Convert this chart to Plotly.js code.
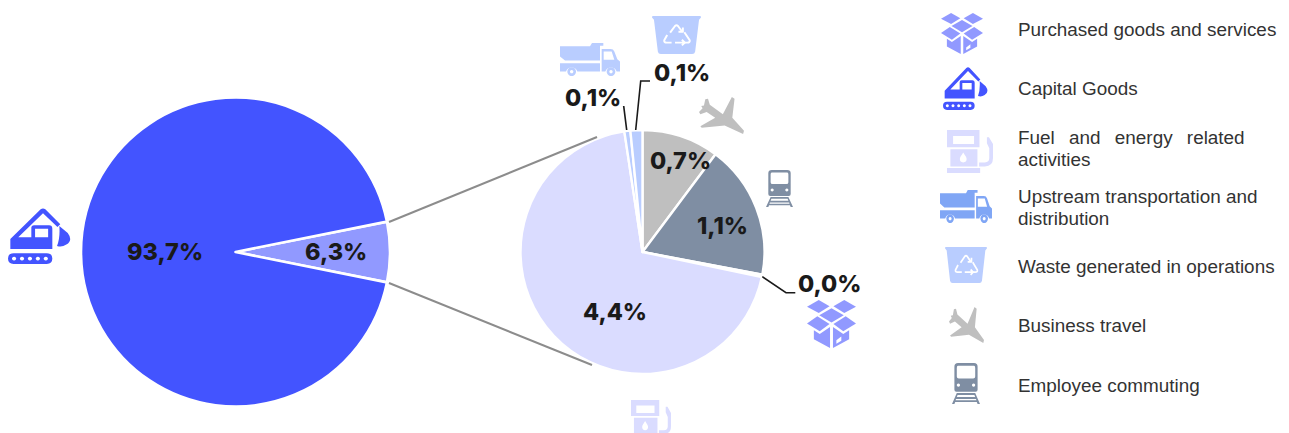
<!DOCTYPE html>
<html><head><meta charset="utf-8">
<script src="https://cdn.plot.ly/plotly-3.0.1.min.js"></script>
<style>html,body{margin:0;padding:0;background:#fff;overflow:hidden}#c{width:1289px;height:433px}</style>
</head><body><div id="c"></div>
<script>
// ---- data ----
const mainCategories = ['Other Scope 3 categories', 'Capital Goods'];
const mainValues = [6.3, 93.7];
const mainColors = ['#9199ff', '#4354ff'];
const mainLabels = ['6,3%', '93,7%'];

const detailCategories = ['Business travel', 'Employee commuting', 'Purchased goods and services',
  'Fuel and energy related activities', 'Upstream transportation and distribution', 'Waste generated in operations'];
const detailValues = [0.644, 1.12, 0.02, 4.37, 0.05, 0.1];
const detailColors = ['#bfbfbf', '#7f8ea3', '#9199ff', '#dadcff', '#b9cdff', '#b9cdff'];
const detailLabels = ['0,7%', '1,1%', '0,0%', '4,4%', '0,1%', '0,1%'];

const legendLines = ['Purchased goods and services', 'Capital Goods',
  'Fuel\u00A0\u00A0\u2009and\u00A0\u00A0\u2009energy\u00A0\u00A0\u2009related', 'activities',
  'Upstream transportation and', 'distribution',
  'Waste generated in operations', 'Business travel', 'Employee commuting'];

// ---- layout helpers (pixel -> paper) ----
const W = 1289, H = 433;
const px = x => x / W, py = y => 1 - y / H;
const dom = (cx, cy, r) => ({x: [px(cx - r), px(cx + r)], y: [py(cy + r), py(cy - r)]});

// ---- icons ----
const icons = {
  box: c => `<svg xmlns="http://www.w3.org/2000/svg" viewBox="0 0 100 100"><g fill="${c}">
    <path d="M24 0 46 13 24 27 0 14Z"/><path d="M76 0 100 14 76 27 54 13Z"/>
    <path d="M50 17 75 32 50 47 25 32Z"/><path d="M21 34 46 50 26 65 0 49Z"/><path d="M79 34 100 49 74 65 54 50Z"/>
    <path d="M14 63 26 71 47 56V100L14 82Z"/><path d="M86 63 74 71 53 56V100L86 82Z"/></g>
    <path d="M60 84 70 76V85L60 91Z" fill="#fff"/></svg>`,
  excavator: c => `<svg xmlns="http://www.w3.org/2000/svg" viewBox="0 0 135 130"><g fill="${c}" fill-rule="evenodd">
    <path d="M5 72 70 3Q75 -1 80 3L112 38 106 44 75 12 22 68H50V46Q50 40 56 40H88Q95 40 95 48V95H5Z M58 48V68H86V48Z"/>
    <path d="M110 42 128 58Q140 75 125 85 115 92 105 88 112 70 110 42Z"/>
    <path d="M12 105H83Q95 105 95 117.500T83 130H12Q0 130 0 117.500T12 105Z M13 113a4.500 4.500 0 1 0 .01 0Z M30 113a4.500 4.500 0 1 0 .01 0Z M47 113a4.500 4.500 0 1 0 .01 0Z M64 113a4.500 4.500 0 1 0 .01 0Z M81 113a4.500 4.500 0 1 0 .01 0Z"/></g></svg>`,
  fuel: c => `<svg xmlns="http://www.w3.org/2000/svg" viewBox="0 0 136 130"><g fill="${c}" fill-rule="evenodd">
    <path d="M0 0H96V52H0Z M18 18V42H80V18Z"/>
    <path d="M10 58H90V110H10Z M48 68C42 78 38 82 38 88A10 10 0 0 0 58 88C58 82 54 78 48 68Z"/>
    <path d="M0 115H98V130H0Z"/>
    <path d="M95 98H112Q125 98 125 85V55L118 40V22H124L136 42V85Q136 110 112 110H95Z"/></g></svg>`,
  truck: c => `<svg xmlns="http://www.w3.org/2000/svg" viewBox="0 0 180 98"><g fill="${c}" fill-rule="evenodd">
    <path d="M0 10H90L96 0H130V8H120V52H15L0 40Z"/>
    <path d="M0 60H120V85H52A18 18 0 0 0 18 85H0Z"/>
    <path d="M125 18H152Q160 18 163 25L172 48 180 55V85H170A18 18 0 0 0 136 85H125Z M131 25V50H163L155 25Z"/>
    <path d="M35 72a13 13 0 1 0 .01 0Z M35 80a5 5 0 1 1 -.01 0Z M153 72a13 13 0 1 0 .01 0Z M153 80a5 5 0 1 1 -.01 0Z"/></g></svg>`,
  waste: c => `<svg xmlns="http://www.w3.org/2000/svg" viewBox="0 0 100 80"><path fill="${c}" d="M2 0H98Q100 0 100 3L96 8 88 75Q87 80 82 80H18Q13 80 12 75L4 8 0 3Q0 0 2 0Z"/>
    <g fill="none" stroke="#fff" stroke-width="4" stroke-linejoin="round"><path d="M37 35 47 21Q50 18 53 21L61 32"/><path d="M66 34 77 51Q78 56 72 56H64"/><path d="M31 40 25 51Q24 56 30 56H40"/><path d="M47 56H66M61 50 67 56 61 62"/><path d="M54 33H63V24"/></g></svg>`,
  plane: c => `<svg xmlns="http://www.w3.org/2000/svg" viewBox="0 0 100 82"><path fill="${c}" d="M73 0 79 4 74 46 100 75 98 82 57 63 6 68 3 65 36 46 17 33 3 38 0 33 8 25 5 20 11 19 14 5 20 4 24 17 53 38Z"/></svg>`,
  train: c => `<svg xmlns="http://www.w3.org/2000/svg" viewBox="0 0 70 100"><g fill="${c}" fill-rule="evenodd">
    <path d="M15 0H55Q64 0 64 9V65Q64 70 59 70H11Q6 70 6 65V9Q6 0 15 0Z M15 7Q12 7 12 12V33Q12 38 17 38H53Q58 38 58 33V12Q58 7 55 7Z M16 50a4 4 0 1 0 .01 0Z M54 50a4 4 0 1 0 .01 0Z"/>
    <path d="M12 73H58L70 100H64L62 95H8L6 100H0Z M14 78 12 83H58L56 78Z M10 88 9 91H61L60 88Z"/></g></svg>`
};
const img = (name, color, x0, x1, y0, y1) => ({
  source: 'data:image/svg+xml;charset=utf-8,' + encodeURIComponent(icons[name](color)),
  xref: 'paper', yref: 'paper', x: px(x0), y: py(y0), sizex: (x1 - x0) / W, sizey: (y1 - y0) / H,
  xanchor: 'left', yanchor: 'top', sizing: 'stretch', layer: 'above'
});
const images = [
  img('box', '#9199ff', 941, 983, 13, 54), img('box', '#9199ff', 807, 856, 300, 348),
  img('excavator', '#4354ff', 943, 988, 67, 110), img('excavator', '#4354ff', 8, 71, 208, 264),
  img('fuel', '#dadcff', 947, 993, 130, 173), img('fuel', '#dadcff', 631, 671, 400, 440),
  img('truck', '#80a6f5', 940, 992, 190, 223), img('truck', '#b9cdff', 560, 620, 43, 76),
  img('waste', '#b9cdff', 945, 987, 247, 283), img('waste', '#b9cdff', 652, 701, 16, 54),
  img('plane', '#bfbfbf', 949, 984, 307, 343), img('plane', '#bfbfbf', 699, 744, 97, 134),
  img('train', '#7f8ea3', 952, 980, 363, 404), img('train', '#7f8ea3', 766, 793, 170, 207)
];

// ---- connector lines ----
const poly = (pts, color, w) => ({
  type: 'path', xref: 'paper', yref: 'paper', layer: 'above',
  path: pts.map((p, i) => (i ? 'L' : 'M') + px(p[0]) + ',' + py(p[1])).join(' '),
  line: {color, width: w}
});
const shapes = [
  poly([[389, 222], [597, 137]], '#8c8c8c', 2),
  poly([[389, 283], [592, 365]], '#8c8c8c', 2),
  poly([[626.7, 130], [623.7, 106]], '#1a1a1a', 1.6),
  poly([[635.7, 130], [640.7, 81], [650, 81]], '#1a1a1a', 1.6),
  poly([[762.3, 276.7], [786, 292.7], [795.3, 292.7]], '#1a1a1a', 1.6)
];

// ---- text ----
const valueFont = {family: 'Inter, "Noto Sans", sans-serif', size: 23.5, color: '#1a1a1a', weight: 800};
const lab = (text, x, y) => ({text, x: px(x), y: py(y), xref: 'paper', yref: 'paper', xanchor: 'center', yanchor: 'middle', showarrow: false, font: valueFont});
const legY = [29.5, 88.5, 137, 159, 196.5, 218.5, 266.5, 325.5, 385];
const annotations = [
  lab(mainLabels[1], 164.5, 251), lab(mainLabels[0], 336.5, 251),
  lab(detailLabels[0], 680, 160), lab(detailLabels[1], 722, 225), lab(detailLabels[3], 615, 311),
  lab(detailLabels[4], 592.5, 97), lab(detailLabels[5], 682, 73), lab(detailLabels[2], 830, 283),
  ...legendLines.map((t, i) => ({text: t, x: px(1016), y: py(legY[i]), xref: 'paper', yref: 'paper', xanchor: 'left', yanchor: 'middle',
    showarrow: false, font: {family: 'Liberation Sans, Arial, sans-serif', size: 18.9, color: '#333333'}}))
];

const traces = [
  {type: 'pie', labels: mainCategories, values: mainValues, sort: false, direction: 'clockwise', rotation: 78.66,
   marker: {colors: mainColors, line: {color: '#ffffff', width: 2.6}}, textinfo: 'none', domain: dom(235.5, 252, 154.5), hoverinfo: 'label+percent'},
  {type: 'pie', labels: detailCategories, values: detailValues, sort: false, direction: 'clockwise', rotation: 0,
   marker: {colors: detailColors, line: {color: '#ffffff', width: 2.4}}, textinfo: 'none', domain: dom(642.5, 252, 122), hoverinfo: 'label+percent'}
];
Plotly.newPlot('c', traces, {
  width: W, height: H, margin: {l: 0, r: 0, t: 0, b: 0}, paper_bgcolor: '#fff', plot_bgcolor: '#fff',
  showlegend: false, images, shapes, annotations
}, {displayModeBar: false, staticPlot: true});
</script></body></html>
